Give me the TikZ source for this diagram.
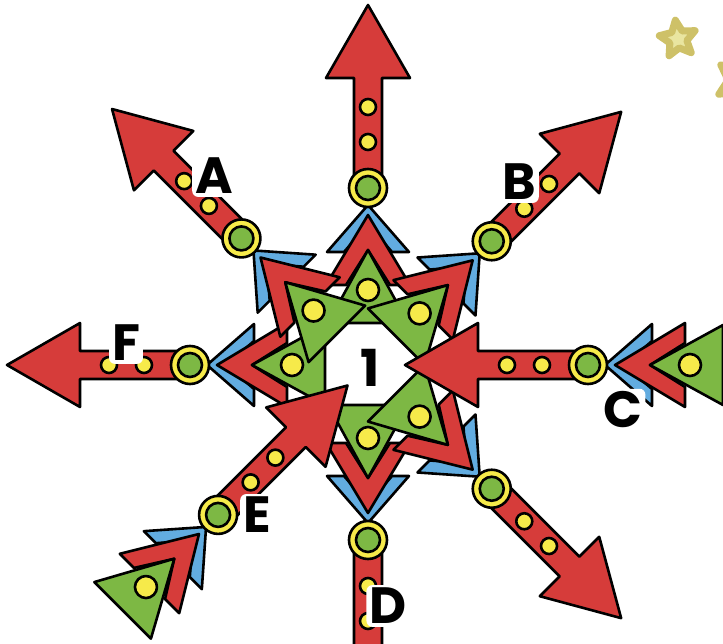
\documentclass[tikz,border=0pt]{standalone}
\usepackage{fontspec}
\setmainfont{Poppins}
\usetikzlibrary{shapes.geometric}

\definecolor{spokered}{RGB}{214,60,58}
\definecolor{chevblue}{RGB}{98,172,224}
\definecolor{tipgreen}{RGB}{125,184,68}
\definecolor{dotyellow}{RGB}{246,234,74}
\definecolor{starrim}{RGB}{206,193,104}
\definecolor{starfill}{RGB}{233,229,160}

\tikzset{
  inked/.style={draw=black, line width=2.6pt, line join=round},
  bluechev/.style={inked, fill=chevblue},
  redpart/.style={inked, fill=spokered},
  greentri/.style={inked, fill=tipgreen},
  yellowdot/.style={inked, fill=dotyellow},
  letter/.style={fill=white, rounded corners=6pt, inner sep=3pt, font=\fontsize{51}{51}\selectfont\bfseries},
  onspoke/.style 2 args={shift={(368,278)}, shift={(#1)}, rotate=#2},
  twinkle/.style={star, star points=5, star point ratio=2.1, inner sep=0pt, fill=starfill, draw=starrim, line width=7pt, line join=round}
}

% ring angle / ring distance / arrow direction
\def\spokes{90/177/90, -90/175/-90, 180/178/180, 135/179/135, 45/175/45, -45/175/-45, 0/220/180, 225/212/45}

\begin{document}
\begin{tikzpicture}[x=1pt, y=1pt]
\useasboundingbox (0,0) rectangle (723,643);
\clip (0,0) rectangle (723,643);

% feathers: blue, then red, then green
\foreach \a/\r/\d in \spokes
  \draw[bluechev, onspoke={\a:\r}{\d}] (-17,0) -- (-64,41) -- (-64,24) -- (-36,0) -- (-64,-24) -- (-64,-41) -- cycle;
\foreach \a/\r/\d in \spokes
  \draw[redpart, onspoke={\a:\r}{\d}] (-27,0) -- (-97,42) -- (-97,22) -- (-62,0) -- (-97,-22) -- (-97,-42) -- cycle;
\foreach \a/\r/\d in \spokes {
  \draw[greentri, onspoke={\a:\r}{\d}] (-62,0) -- (-135,40) -- (-135,-40) -- cycle;
  \draw[yellowdot, onspoke={\a:\r}{\d}] (-102,0) circle (11);
}

% shafts, heads and rings
\foreach \a/\r/\d in \spokes {
  \begin{scope}[onspoke={\a:\r}{\d}]
    \draw[redpart] (0,-14) -- (110,-14) -- (110,-42) -- (183,0) -- (110,42) -- (110,14) -- (0,14) -- cycle;
    \foreach \p in {46,81} \draw[yellowdot] (\p,0) circle (8);
    \draw[yellowdot] (0,0) circle (19);
    \draw[greentri] (0,0) circle (12);
  \end{scope}
}

\node[letter] (lblA) at (214,467) {A};
\node[letter] (lblB) at (519,461) {B};
\node[letter] (lblC) at (623,233) {C};
\node[letter] (lblD) at (388,37) {D};
\node[letter] (lblE) at (257,128) {E};
\node[letter] (lblF) at (126,300) {F};
\node[font=\fontsize{51}{51}\selectfont\bfseries] (hubnum) at (370,275) {1};

\node[twinkle, minimum size=38pt, rotate=8] (starA) at (678,604) {};
\node[twinkle, minimum size=50pt, rotate=-22] (starB) at (740,562) {};
\end{tikzpicture}
\end{document}
